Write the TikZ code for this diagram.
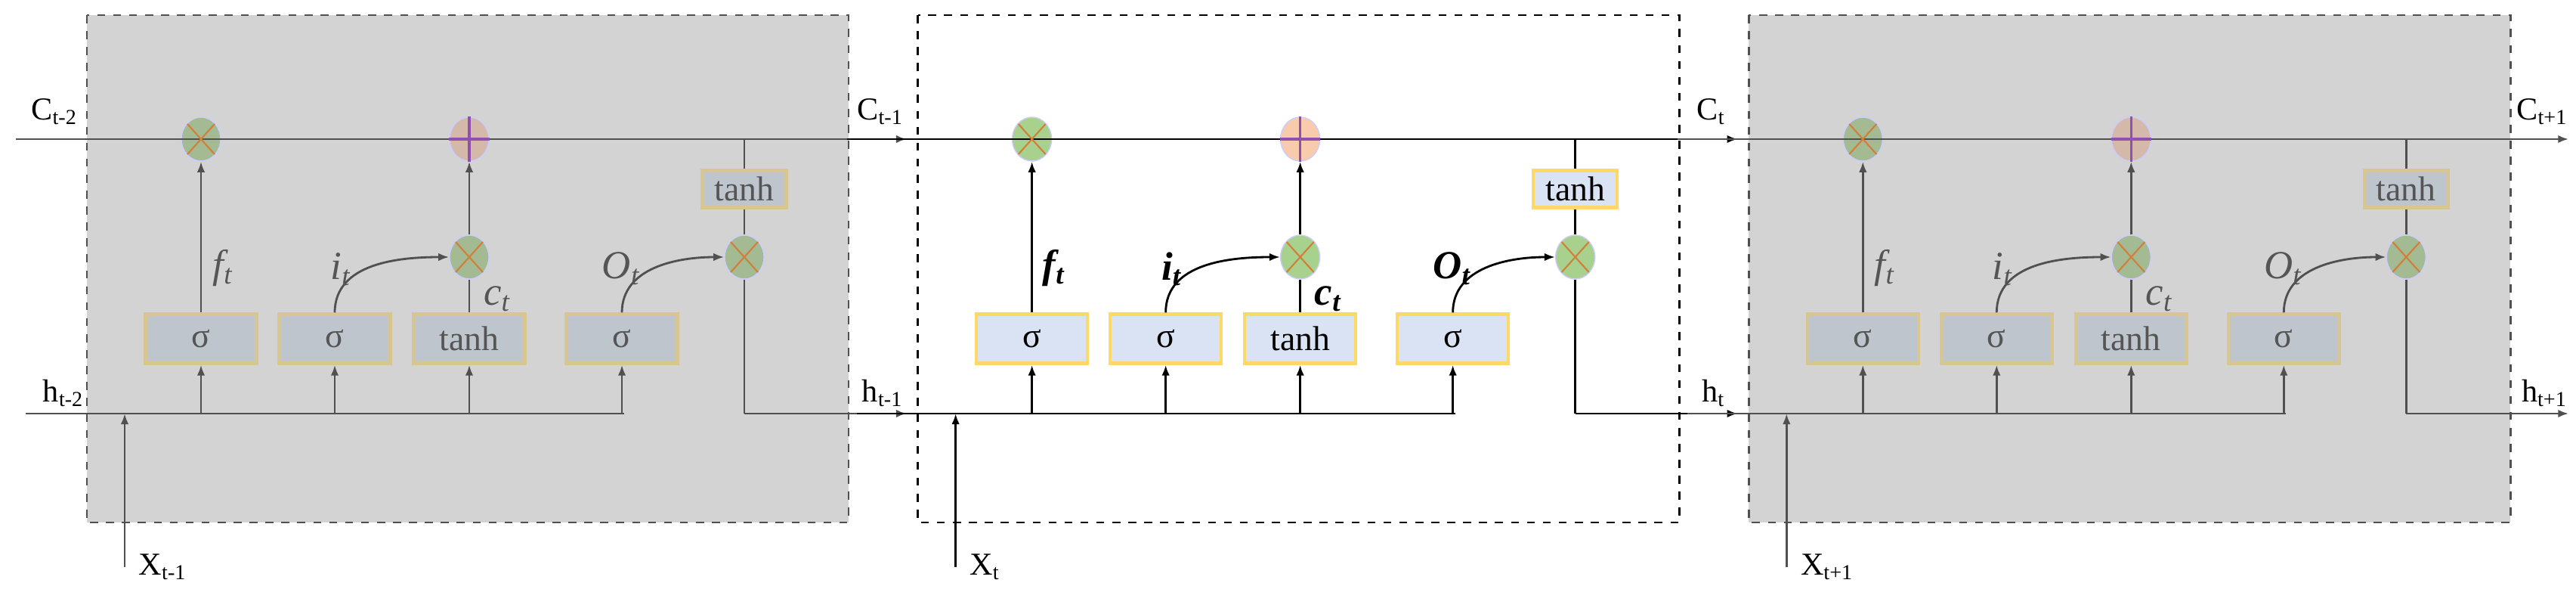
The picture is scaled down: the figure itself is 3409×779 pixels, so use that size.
\documentclass[tikz,border=0pt]{standalone}
\usepackage{fontspec}
\setmainfont{Liberation Serif}
\usetikzlibrary{arrows.meta,shapes.geometric}
\definecolor{bgG}{HTML}{D3D3D3}\definecolor{bgW}{HTML}{FFFFFF}
\definecolor{lnG}{HTML}{505050}\definecolor{lnW}{HTML}{000000}
\definecolor{bxG}{HTML}{BFC5CD}\definecolor{bxW}{HTML}{DAE3F3}
\definecolor{bdG}{HTML}{D8C690}\definecolor{bdW}{HTML}{FFD966}
\definecolor{cgG}{HTML}{A3BA92}\definecolor{cgW}{HTML}{A9D18E}
\definecolor{cpG}{HTML}{D4B8AA}\definecolor{cpW}{HTML}{F8CBAD}
\definecolor{txG}{HTML}{555555}\definecolor{txW}{HTML}{000000}
\definecolor{crs}{HTML}{D0803A}\definecolor{pls}{HTML}{9050B0}
\tikzset{
 fntG/.style={font=\fontsize{15}{15}\selectfont\itshape},
 fntW/.style={font=\fontsize{15}{15}\selectfont\bfseries\itshape},
 lab/.style={font=\fontsize{12}{12}\selectfont,inner sep=0pt},
 arr/.style={-{Latex[length=4pt,width=3pt]}},
}
\begin{document}
\begin{tikzpicture}[x=0.01cm,y=-0.01cm]
\useasboundingbox (0,0) rectangle (3409,779);
\foreach \off/\p/\s/\n in {0cm/a/G/t-1, 10.99cm/b/W/t, 21.98cm/c/G/t+1}{
\begin{scope}[xshift=\off, name prefix=\p-,
  bx/.style={draw=bd\s, fill=bx\s, line width=1.2pt, minimum width=1.47cm, minimum height=0.65cm, inner sep=0pt, font=\fontsize{13}{13}\selectfont, text=tx\s},
  ci/.style={ellipse, draw=blue!20, fill=cg\s, minimum width=0.52cm, minimum height=0.58cm, inner sep=0pt},
  ln/.style={draw=ln\s, line width=0.8pt}]
 \draw[dashed, draw=ln\s, fill=bg\s, line width=0.8pt] (115,20) rectangle (1123,691);
 % nodes
 \node[bx] (s1) at (266,448) {σ};
 \node[bx] (s2) at (443,448) {σ};
 \node[bx] (s3) at (621,448) {tanh};
 \node[bx] (s4) at (823,448) {σ};
 \node[bx, minimum width=1.11cm, minimum height=0.49cm] (th) at (985,250) {tanh};
 \node[ci] (mf) at (266,184) {};
 \node[ci, fill=cp\s] (pl) at (621,184) {};
 \node[ci] (mi) at (621,340) {};
 \node[ci] (mo) at (985,340) {};
 \coordinate (cin) at (21,184);  \coordinate (cout) at (1200,184);
 \coordinate (hin) at (34,547);  \coordinate (hend) at (826,547);
 \coordinate (hout) at (1200,547);
 \coordinate (xb) at (165,750);  \coordinate (xt) at (165,547);
 \coordinate (ht) at (985,184); \coordinate (hb) at (985,547);
 \coordinate (h1) at (266,547); \coordinate (h2) at (443,547);
 \coordinate (h3) at (621,547); \coordinate (h4) at (823,547);
 % connectors
 \draw[ln, arr] (cin) -- (cout);
 \draw[ln] (hin) -- (hend);
 \draw[ln, arr] (xb) -- (xt);
 \foreach \i in {1,2,3,4}{\draw[ln, arr] (h\i) -- (s\i.south);}
 \draw[ln, arr] (s1.north) -- (mf.south);
 \draw[ln] (s3.north) -- (mi.south);
 \draw[ln, arr] (mi.north) -- (pl.south);
 \draw[ln, arr] (s2.north) to[out=90, in=180] (mi.west);
 \draw[ln, arr] (s4.north) to[out=90, in=180] (mo.west);
 \draw[ln] (ht) -- (th.north);
 \draw[ln] (th.south) -- (mo.north);
 \draw[ln] (mo.south) -- (hb);
 \draw[ln, arr] (hb) -- (hout);
 % operator symbols
 \foreach \c in {mf,mi,mo}{
  \draw[crs, line width=0.6pt] ([shift={(-18,-20)}]\c.center) -- ([shift={(18,20)}]\c.center);
  \draw[crs, line width=0.6pt] ([shift={(-18,20)}]\c.center) -- ([shift={(18,-20)}]\c.center);}
 \draw[pls, line width=0.9pt] (pl.west) -- (pl.east);
 \draw[pls, line width=0.9pt] (pl.north) -- (pl.south);
 % labels
 \node[fnt\s, text=tx\s] (lf) at (295,355) {f\textsubscript{t}};
 \node[fnt\s, text=tx\s] (li) at (451,356) {i\textsubscript{t}};
 \node[fnt\s, text=tx\s] (lc) at (658,395) {c\textsubscript{t}};
 \node[fnt\s, text=tx\s] (lo) at (822,355) {O\textsubscript{t}};
 \node[lab] (lC) at (1165,148) {C\textsubscript{\n}};
 \node[lab] (lh) at (1168,520) {h\textsubscript{\n}};
 \node[lab, anchor=west] (lX) at (183,750) {X\textsubscript{\n}};
\end{scope}}
\node[lab] (lC0) at (72,148) {C\textsubscript{t-2}};
\node[lab] (lh0) at (84,520) {h\textsubscript{t-2}};
\end{tikzpicture}
\end{document}
